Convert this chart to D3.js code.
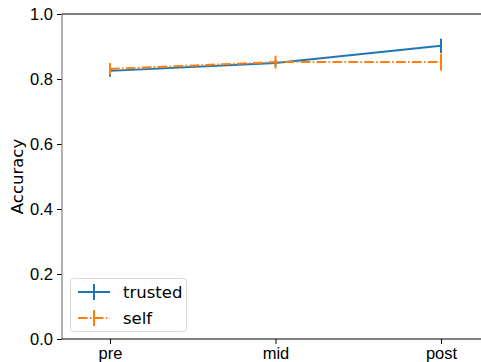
<!DOCTYPE html>
<html>
<head>
<meta charset="utf-8">
<script src="https://cdn.jsdelivr.net/npm/d3@7"></script>
<style>
  html, body { margin: 0; padding: 0; background: #fff; }
  svg { display: block; font-family: "DejaVu Sans", sans-serif; }
</style>
</head>
<body>
<svg id="chart" width="481" height="362"></svg>
<script>
// Accuracy across phases for the two conditions
const categories = ["pre", "mid", "post"];
const trustedValues = [0.825, 0.849, 0.902];
const trustedErrors = [0.018, 0.010, 0.022];
const selfValues = [0.831, 0.852, 0.852];
const selfErrors = [0.018, 0.020, 0.026];
const yTicks = [0.0, 0.2, 0.4, 0.6, 0.8, 1.0];
const seriesNames = ["trusted", "self"];

const series = [
  { name: seriesNames[0], values: trustedValues, errors: trustedErrors, color: "#1f77b4", dash: null },
  { name: seriesNames[1], values: selfValues, errors: selfErrors, color: "#ff7f0e", dash: "9.6,2.4,1.5,2.4" }
];

const FS = 16.5;
const svg = d3.select("#chart");
const plot = { left: 62, right: 489, top: 14, bottom: 339 };

const x = d3.scalePoint().domain(categories).range([plot.left, plot.right]).padding(0.29);
const y = d3.scaleLinear().domain([0, 1]).range([plot.bottom, plot.top]);

// Axes
const yAxis = svg.append("g")
  .attr("transform", `translate(${plot.left},0)`)
  .call(d3.axisLeft(y).tickValues(yTicks).tickFormat(d3.format(".1f")).tickSize(5).tickPadding(4));
yAxis.select(".domain").remove();
yAxis.selectAll("text").attr("font-size", FS).attr("fill", "#000");
yAxis.selectAll("line").attr("stroke", "#000").attr("stroke-width", 1);

const xAxis = svg.append("g")
  .attr("transform", `translate(0,${plot.bottom})`)
  .call(d3.axisBottom(x).tickSize(5).tickPadding(3));
xAxis.select(".domain").remove();
xAxis.selectAll("text").attr("font-size", FS).attr("fill", "#000");
xAxis.selectAll("line").attr("stroke", "#000").attr("stroke-width", 1);

// Spines
svg.append("line").attr("x1", plot.left).attr("x2", plot.left).attr("y1", plot.top).attr("y2", plot.bottom)
  .attr("stroke", "#808080").attr("stroke-width", 1.2);
svg.append("line").attr("x1", plot.left).attr("x2", plot.right).attr("y1", plot.top).attr("y2", plot.top)
  .attr("stroke", "#000").attr("stroke-width", 1.2);
svg.append("line").attr("x1", plot.left).attr("x2", plot.right).attr("y1", plot.bottom).attr("y2", plot.bottom)
  .attr("stroke", "#000").attr("stroke-width", 1.2);

// Y label
svg.append("text")
  .attr("transform", `translate(23,${(plot.top + plot.bottom) / 2}) rotate(-90)`)
  .attr("text-anchor", "middle")
  .attr("font-size", FS)
  .text("Accuracy");

// Lines with error bars
const line = d3.line().x((d, i) => x(categories[i])).y(d => y(d));
series.forEach(s => {
  const g = svg.append("g");
  g.append("path")
    .attr("d", line(s.values))
    .attr("fill", "none")
    .attr("stroke", s.color)
    .attr("stroke-width", 2)
    .attr("stroke-dasharray", s.dash);
  g.selectAll("line.err")
    .data(s.values)
    .join("line")
    .attr("class", "err")
    .attr("x1", (d, i) => x(categories[i]))
    .attr("x2", (d, i) => x(categories[i]))
    .attr("y1", (d, i) => y(d - s.errors[i]))
    .attr("y2", (d, i) => y(d + s.errors[i]))
    .attr("stroke", s.color)
    .attr("stroke-width", 2);
});

// Legend
const legend = svg.append("g").attr("transform", "translate(70,278)");
legend.append("rect")
  .attr("x", 0.5).attr("y", 0.5).attr("width", 116).attr("height", 53)
  .attr("rx", 3).attr("fill", "#fff").attr("fill-opacity", 0.8)
  .attr("stroke", "#d9d9d9").attr("stroke-width", 1);
series.forEach((s, i) => {
  const cy = 14 + i * 26;
  const item = legend.append("g").attr("transform", `translate(0,${cy})`);
  item.append("line").attr("x1", 8).attr("x2", 40).attr("y1", 0).attr("y2", 0)
    .attr("stroke", s.color).attr("stroke-width", 2)
    .attr("stroke-dasharray", s.dash ? "9.6,2.4,1.5,2.4" : null);
  item.append("line").attr("x1", 24).attr("x2", 24).attr("y1", -8).attr("y2", 8)
    .attr("stroke", s.color).attr("stroke-width", 2);
  item.append("text").attr("x", 53).attr("y", 0).attr("dy", "0.35em")
    .attr("font-size", FS).text(s.name);
});
</script>
</body>
</html>
